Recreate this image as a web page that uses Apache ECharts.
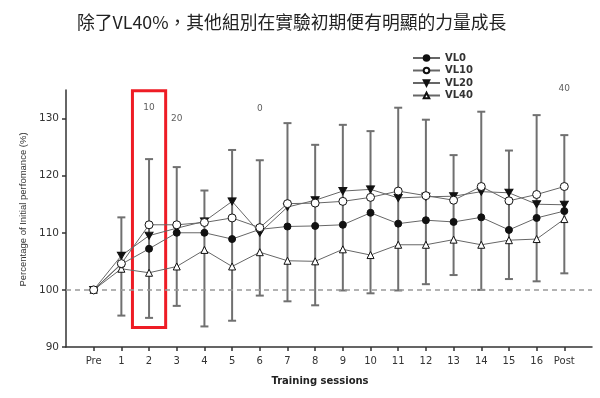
<!DOCTYPE html>
<html>
<head>
<meta charset="utf-8">
<script src="https://cdn.jsdelivr.net/npm/echarts@6/dist/echarts.min.js"></script>
<style>
  html, body { margin: 0; padding: 0; background: #fff; }
  #main { width: 600px; height: 398px; }
</style>
</head>
<body>
<div id="main"></div>
<script>
  // x positions: 0 = Pre, 1..16 sessions, 17 = Post
  var sessionLabels = ['Pre', '1', '2', '3', '4', '5', '6', '7', '8', '9', '10', '11', '12', '13', '14', '15', '16', 'Post'];
  var yTicks = [90, 100, 110, 120, 130];

  var vl0  = [100, 104.5, 107.2, 110.0, 110.0, 108.9, 110.6, 111.1, 111.2, 111.4, 113.5, 111.6, 112.2, 111.9, 112.7, 110.5, 112.6, 113.8];
  var vl10 = [100, 104.6, 111.4, 111.4, 111.8, 112.6, 110.9, 115.1, 115.2, 115.5, 116.2, 117.3, 116.5, 115.7, 118.1, 115.6, 116.7, 118.1];
  var vl20 = [100, 106.0, 109.5, 110.8, 112.0, 115.5, 110.0, 114.5, 115.7, 117.3, 117.6, 116.1, 116.3, 116.4, 117.2, 117.0, 115.0, 114.9];
  var vl40 = [100, 103.7, 103.0, 104.1, 107.0, 104.1, 106.6, 105.1, 105.0, 107.1, 106.1, 107.9, 107.9, 108.8, 107.9, 108.7, 108.9, 112.4];

  // error bar ends (upper bar of highest group, lower bar of lowest group)
  var errHigh = [null, 112.7, 122.9, 121.5, 117.4, 124.5, 122.7, 129.2, 125.4, 128.9, 127.8, 131.9, 129.8, 123.6, 131.2, 124.4, 130.6, 127.1];
  var errLow  = [null, 95.5, 95.1, 97.2, 93.6, 94.6, 99.0, 98.0, 97.3, 99.9, 99.4, 99.9, 101.0, 102.6, 100.0, 101.9, 101.5, 102.9];

  // small numbers written above the bars
  var noteX = [2, 3, 6, 17];
  var noteY = [131.9, 129.9, 131.8, 135.3];
  var noteText = ['10', '20', '0', '40'];

  var baseline = 100;
  // red highlight box around session 2
  var boxX = [1.4, 2.6];
  var boxY = [93.4, 134.85];

  var xIdx = sessionLabels.map(function (s, i) { return i; });
  function pairs(arr) { return arr.map(function (v, i) { return [i, v]; }); }

  var errData = [];
  errHigh.forEach(function (h, i) {
    if (h != null) errData.push([i, errLow[i], h]);
  });

  var noteData = noteX.map(function (x, i) { return [x, noteY[i], noteText[i]]; });

  function renderErrorBar(params, api) {
    var x = api.value(0);
    var lo = api.coord([x, api.value(1)]);
    var hi = api.coord([x, api.value(2)]);
    var cap = 4;
    var st = { stroke: '#707070', lineWidth: 2 };
    return {
      type: 'group',
      children: [
        { type: 'line', shape: { x1: lo[0], y1: lo[1], x2: hi[0], y2: hi[1] }, style: st },
        { type: 'line', shape: { x1: hi[0] - cap, y1: hi[1], x2: hi[0] + cap, y2: hi[1] }, style: st },
        { type: 'line', shape: { x1: lo[0] - cap, y1: lo[1], x2: lo[0] + cap, y2: lo[1] }, style: st }
      ]
    };
  }

  var downTri = 'path://M0,0 L10,0 L5,9 Z';
  var lineStyle = { color: '#666', width: 1 };
  var txt = '#333';

  var chart = echarts.init(document.getElementById('main'));
  chart.setOption({
    animation: false,
    title: {
      text: '除了VL40%，其他組別在實驗初期便有明顯的力量成長',
      left: 77,
      top: 13,
      padding: 0,
      textStyle: { fontFamily: 'Noto Sans CJK TC', fontSize: 17.8, fontWeight: 'normal', color: '#222' }
    },
    legend: {
      data: ['VL0', 'VL10', 'VL20', 'VL40'],
      orient: 'vertical',
      left: 412,
      top: 52,
      padding: 0,
      itemWidth: 27,
      itemHeight: 7,
      itemGap: 0.5,
      textStyle: { fontFamily: 'DejaVu Sans', fontSize: 10, lineHeight: 12, color: txt, fontWeight: 'bold' }
    },
    grid: { left: 66, right: 8, top: 90, bottom: 51 },
    xAxis: {
      type: 'value',
      min: -1,
      max: 18,
      name: 'Training sessions',
      nameLocation: 'middle',
      nameGap: 29,
      nameTextStyle: { fontFamily: 'DejaVu Sans', fontSize: 10, fontWeight: 'bold', color: '#222', padding: [0, 18, 0, 0] },
      splitLine: { show: false },
      axisLine: { onZero: false, lineStyle: { color: '#333', width: 1.5 } },
      axisTick: { customValues: xIdx, length: 4, lineStyle: { color: '#333', width: 1.5 } },
      axisLabel: {
        customValues: xIdx,
        margin: 9,
        fontFamily: 'DejaVu Sans', fontSize: 10, color: txt,
        formatter: function (v) { return sessionLabels[v] || ''; }
      }
    },
    yAxis: {
      type: 'value',
      min: 90,
      max: 135,
      interval: 10,
      name: 'Percentage of Initial perfomance (%)',
      nameLocation: 'middle',
      nameGap: 28,
      nameTextStyle: { fontFamily: 'Liberation Sans', fontSize: 9.5, color: txt, padding: [0, 0, 0, 18] },
      splitLine: { show: false },
      axisLine: { show: true, onZero: false, lineStyle: { color: '#333', width: 1.5 } },
      axisTick: { show: true, customValues: yTicks, length: 4, lineStyle: { color: '#333', width: 1.5 } },
      axisLabel: { customValues: yTicks, margin: 7, fontFamily: 'DejaVu Sans', fontSize: 10.5, color: txt }
    },
    series: [
      {
        name: 'err',
        type: 'custom',
        renderItem: renderErrorBar,
        data: errData,
        z: 1,
        silent: true,
        markLine: {
          silent: true,
          symbol: 'none',
          label: { show: false },
          lineStyle: { color: '#999', width: 1.5, type: [5, 4] },
          data: [{ yAxis: baseline }]
        },
        markArea: {
          silent: true,
          itemStyle: { color: 'rgba(0,0,0,0)', borderColor: '#ee1c25', borderWidth: 3 },
          data: [[{ xAxis: boxX[0], yAxis: boxY[1] }, { xAxis: boxX[1], yAxis: boxY[0] }]]
        }
      },
      {
        name: 'VL40', type: 'line', data: pairs(vl40), z: 3,
        symbol: 'triangle', symbolSize: 7,
        lineStyle: lineStyle,
        itemStyle: { color: '#fff', borderColor: '#111', borderWidth: 1 }
      },
      {
        name: 'VL0', type: 'line', data: pairs(vl0), z: 4,
        symbol: 'circle', symbolSize: 7,
        lineStyle: lineStyle,
        itemStyle: { color: '#111', borderColor: '#111', borderWidth: 1 }
      },
      {
        name: 'VL20', type: 'line', data: pairs(vl20), z: 5,
        symbol: downTri, symbolSize: [8, 7],
        lineStyle: lineStyle,
        itemStyle: { color: '#111', borderColor: '#111', borderWidth: 1 }
      },
      {
        name: 'VL10', type: 'line', data: pairs(vl10), z: 6,
        symbol: 'circle', symbolSize: 8,
        lineStyle: lineStyle,
        itemStyle: { color: '#fff', borderColor: '#111', borderWidth: 1 }
      },
      {
        name: 'notes', type: 'scatter', data: noteData, symbolSize: 0, clip: false, silent: true,
        label: {
          show: true, position: 'inside',
          fontFamily: 'DejaVu Sans', fontSize: 9, color: txt,
          formatter: function (p) { return p.data[2]; }
        }
      }
    ]
  });
</script>
</body>
</html>
